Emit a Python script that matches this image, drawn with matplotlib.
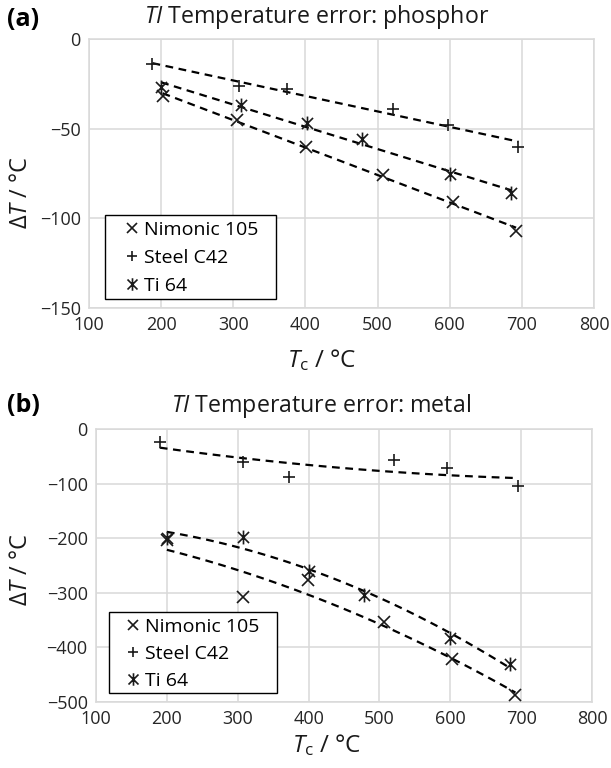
import numpy as np
import matplotlib
matplotlib.use("Agg")
import matplotlib.pyplot as plt
from matplotlib.path import Path
from matplotlib.patches import Rectangle

plt.rcParams['font.family'] = ['Open Sans', 'DejaVu Sans']
plt.rcParams['mathtext.fontset'] = 'custom'
plt.rcParams['mathtext.rm'] = 'Open Sans'
plt.rcParams['mathtext.it'] = 'Open Sans:italic'

# ---------------- data ----------------
series_names = ["Nimonic 105", "Steel C42", "Ti 64"]

# panel (a): phosphor
a_nim_x = [202, 305, 401, 508, 604, 692]
a_nim_y = [-32, -45, -60, -76, -91, -107]
a_stl_x = [188, 308, 374, 521, 598, 695]
a_stl_y = [-14, -26, -28, -39, -48, -60]
a_ti_x = [200, 310, 402, 478, 601, 685]
a_ti_y = [-27, -37, -47, -56, -75, -86]

# panel (b): metal
b_nim_x = [200, 307, 399, 506, 603, 692]
b_nim_y = [-203, -308, -277, -353, -422, -487]
b_stl_x = [190, 307, 373, 521, 596, 695]
b_stl_y = [-23, -60, -88, -56, -72, -104]
b_ti_x = [200, 307, 400, 478, 600, 684]
b_ti_y = [-199, -197, -260, -304, -382, -430]

x_ticks = [100, 200, 300, 400, 500, 600, 700, 800]
a_yticks = [0, -50, -100, -150]
b_yticks = [0, -100, -200, -300, -400, -500]

# ---------------- markers ----------------
star = Path([(0, -1), (0, 1), (-0.8, -0.8), (0.8, 0.8), (-0.8, 0.8), (0.8, -0.8)],
            [Path.MOVETO, Path.LINETO, Path.MOVETO, Path.LINETO, Path.MOVETO, Path.LINETO])
markers = ['x', '+', star]
msizes = [8.5, 8, 10]

W, H = 611, 768
fig = plt.figure(figsize=(W / 100, H / 100), dpi=100)

def px(x0, y0, x1, y1):
    return [x0 / W, 1 - y1 / H, (x1 - x0) / W, (y1 - y0) / H]

def panel(rect, data, yticks, deg, title, title_xy, letter_xy, xlabel_xy, ylabel_xy,
          leg_box, leg_anchor, leg_spacing):
    ax = fig.add_axes(rect)
    ax.set_xlim(100, 800)
    ax.set_ylim(yticks[-1], yticks[0])
    ax.set_xticks(x_ticks)
    ax.set_yticks(yticks)
    ax.grid(True, color='#d9d9d9', lw=1.1)
    ax.set_axisbelow(True)
    for s in ax.spines.values():
        s.set_color('#d9d9d9')
        s.set_linewidth(1.1)
    ax.tick_params(length=0, labelsize=13, colors='#262626', pad=6)
    handles = []
    for (xs, ys), m, ms, name in zip(data, markers, msizes, series_names):
        xs = np.array(xs, float)
        ys = np.array(ys, float)
        coef = np.polyfit(xs, ys, deg)
        xf = np.linspace(xs.min(), xs.max(), 100)
        ax.plot(xf, np.polyval(coef, xf), color='black', lw=1.6, dashes=(3.5, 2.5), zorder=2)
        h, = ax.plot(xs, ys, ls='none', marker=m, ms=ms, mew=1.2, color='#1a1a1a', label=name, zorder=3)
        handles.append(h)
    # legend frame (drawn separately for exact padding)
    bx0, by0, bx1, by1 = leg_box
    fig.add_artist(Rectangle((bx0 / W, 1 - by1 / H), (bx1 - bx0) / W, (by1 - by0) / H,
                             transform=fig.transFigure, facecolor='white', edgecolor='black',
                             lw=1.0, zorder=5))
    leg = fig.legend(handles=handles, loc='center left',
                     bbox_to_anchor=(leg_anchor[0] / W, 1 - leg_anchor[1] / H),
                     bbox_transform=fig.transFigure, fontsize=14, frameon=False,
                     borderpad=0, handlelength=0.75, handletextpad=0.25, labelspacing=leg_spacing,
                     borderaxespad=0, markerscale=0.9)
    leg.set_zorder(6)
    fig.text(title_xy[0] / W, 1 - title_xy[1] / H, title, ha='center', va='center', fontsize=16.7, color='#1a1a1a')
    fig.text(letter_xy[0] / W, 1 - letter_xy[1] / H, letter_xy[2], ha='left', va='center',
             fontsize=18, fontweight='bold', color='black')
    fig.text(xlabel_xy[0] / W, 1 - xlabel_xy[1] / H, r'$\mathit{T}_\mathrm{c}$ / °C', ha='center', va='center',
             fontsize=17.5, color='#1a1a1a')
    fig.text(ylabel_xy[0] / W, 1 - ylabel_xy[1] / H, r'$\Delta\mathit{T}$ / °C', ha='center', va='center',
             fontsize=17, color='#1a1a1a', rotation=90)
    return ax

panel(px(89, 39, 594, 308),
      [(a_nim_x, a_nim_y), (a_stl_x, a_stl_y), (a_ti_x, a_ti_y)],
      a_yticks, 1, r'$\mathit{TI}$ Temperature error: phosphor',
      (317, 17), (7, 19, '(a)'), (322, 360), (21, 193),
      (105, 215, 276, 299), (125, 258), 0.5)

panel(px(96, 429, 592, 702),
      [(b_nim_x, b_nim_y), (b_stl_x, b_stl_y), (b_ti_x, b_ti_y)],
      b_yticks, 2, r'$\mathit{TI}$ Temperature error: metal',
      (321, 406), (7, 405, '(b)'), (327, 745), (21, 570),
      (109, 612, 277, 693), (126, 654), 0.45)

fig.savefig('out.png', dpi=100, facecolor='white')
